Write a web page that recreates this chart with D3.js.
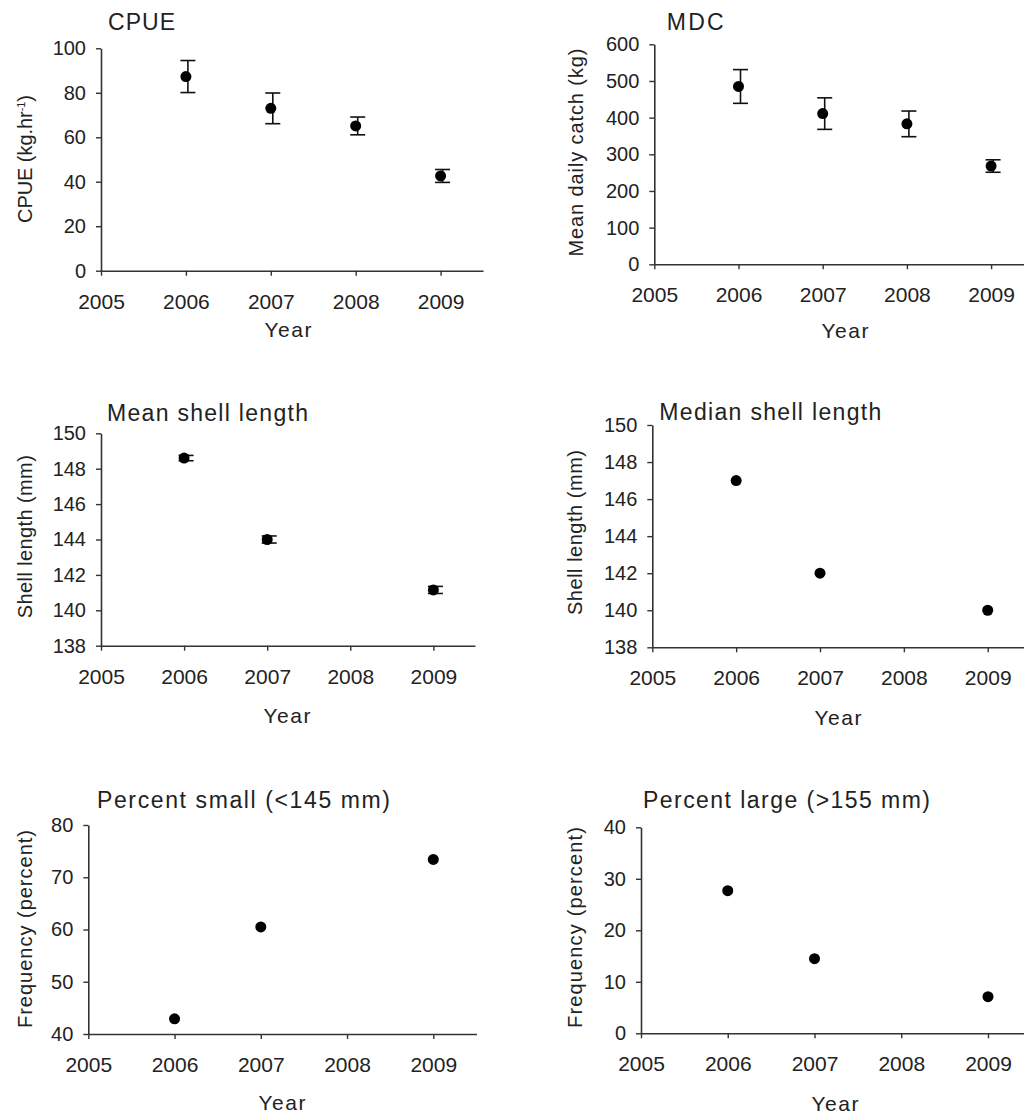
<!DOCTYPE html>
<html><head><meta charset="utf-8">
<script src="https://cdn.jsdelivr.net/npm/d3@7"></script>
<style>
body{margin:0;background:#fff}
text{font-family:"Liberation Sans",Arial,sans-serif;fill:#222}
</style>
</head><body>
<svg id="chart" width="1024" height="1117"></svg>
<script>
// ---------- data ----------
const xTickYears = [2005, 2006, 2007, 2008, 2009];
const years4 = [2006, 2007, 2008, 2009];
const years3 = [2006, 2007, 2009];

const cpue = [87.3, 73.0, 65.1, 42.6];
const cpueErr = [7.2, 6.9, 4.0, 2.9];
const mdc = [485, 411, 383, 268];
const mdcErr = [46, 43, 35, 17];
const meanLength = [148.6, 144.0, 141.15];
const meanLengthErr = [0.15, 0.2, 0.2];
const medianLength = [147, 142, 140];
const pctSmall = [42.9, 60.5, 73.4];
const pctLarge = [27.7, 14.5, 7.1];

const cpueTicks = [0, 20, 40, 60, 80, 100];
const mdcTicks = [0, 100, 200, 300, 400, 500, 600];
const lengthTicks = [138, 140, 142, 144, 146, 148, 150];
const smallTicks = [40, 50, 60, 70, 80];
const largeTicks = [0, 10, 20, 30, 40];

const titles = ["CPUE", "MDC", "Mean shell length", "Median shell length",
                "Percent small (<145 mm)", "Percent large (>155 mm)"];
const yLabels = ["CPUE (kg.hr", "Mean daily catch (kg)", "Shell length (mm)",
                 "Shell length (mm)", "Frequency (percent)", "Frequency (percent)"];
const xLabel = "Year";

// ---------- layout (positions only) ----------
const panels = [
  {years: years4, vals: cpue, err: cpueErr, ticks: cpueTicks, dom: [0, 100],
   left: 101, top: 48.3, bottom: 270.7, perYear: 84.9,
   tx: 108, ty: 30, tLen: 67, lx: 31.5, ly: 159, lLen: 128, yx: 288, yy: 337, sup: true},
  {years: years4, vals: mdc, err: mdcErr, ticks: mdcTicks, dom: [0, 600],
   left: 654.3, top: 44.3, bottom: 264.3, perYear: 84.2,
   tx: 666.7, ty: 30, tLen: 57, lx: 583, ly: 152.5, lLen: 208, yx: 845, yy: 338},
  {years: years3, vals: meanLength, err: meanLengthErr, ticks: lengthTicks, dom: [138, 150],
   left: 101, top: 433.3, bottom: 645.7, perYear: 83.1,
   tx: 107, ty: 421, tLen: 201, lx: 31.5, ly: 536.7, lLen: 163, yx: 287, yy: 723},
  {years: years3, vals: medianLength, err: null, ticks: lengthTicks, dom: [138, 150],
   left: 652.3, top: 425, bottom: 647.3, perYear: 83.85,
   tx: 659.3, ty: 420, tLen: 222, lx: 582, ly: 532.5, lLen: 165, yx: 838, yy: 725},
  {years: years3, vals: pctSmall, err: null, ticks: smallTicks, dom: [40, 80],
   left: 88.3, top: 825, bottom: 1034, perYear: 86.25,
   tx: 97, ty: 808, tLen: 293, lx: 31.5, ly: 929, lLen: 198, yx: 282, yy: 1110},
  {years: years3, vals: pctLarge, err: null, ticks: largeTicks, dom: [0, 40],
   left: 641, top: 827.3, bottom: 1033.3, perYear: 86.75,
   tx: 643, ty: 808, tLen: 287, lx: 582, ly: 927.5, lLen: 201, yx: 835, yy: 1111}
];

const svg = d3.select("#chart");
const ink = "#222";

panels.forEach((p, i) => {
  const x = d3.scaleLinear().domain([2005, 2009.5]).range([p.left, p.left + 4.5 * p.perYear]);
  const y = d3.scaleLinear().domain(p.dom).range([p.bottom, p.top]);
  const g = svg.append("g");

  // y axis
  const ya = g.append("g").attr("transform", `translate(${p.left},0)`)
    .call(d3.axisLeft(y).tickValues(p.ticks).tickSize(5).tickPadding(10).tickSizeOuter(0).tickFormat(d3.format("d")));
  // x axis
  const xa = g.append("g").attr("transform", `translate(0,${p.bottom})`)
    .call(d3.axisBottom(x).tickValues(xTickYears).tickSize(5).tickPadding(8).tickSizeOuter(0).tickFormat(d3.format("d")));
  [ya, xa].forEach(a => {
    a.select(".domain").attr("stroke", "#333").attr("stroke-width", 1.6);
    a.selectAll(".tick line").attr("stroke", "#333").attr("stroke-width", 1.4);
    a.selectAll(".tick text").attr("fill", ink).style("font-size", "20px")
      .style("font-family", '"Liberation Sans", Arial, sans-serif');
  });
  xa.selectAll(".tick text").attr("dy", null).attr("y", 38).style("font-size", "21px");

  // title
  g.append("text").attr("x", p.tx).attr("y", p.ty).style("font-size", "23px")
    .attr("textLength", p.tLen).attr("lengthAdjust", "spacing").text(titles[i]);

  // y label
  const yl = g.append("text").attr("transform", `translate(${p.lx},${p.ly}) rotate(-90)`)
    .attr("text-anchor", "middle").style("font-size", "20px")
    .attr("textLength", p.lLen).attr("lengthAdjust", "spacing");
  if (p.sup) {
    yl.append("tspan").text(yLabels[i]);
    yl.append("tspan").attr("dy", -7).style("font-size", "11px").text("-1");
    yl.append("tspan").attr("dy", 7).text(")");
  } else {
    yl.text(yLabels[i]);
  }

  // x label
  g.append("text").attr("x", p.yx).attr("y", p.yy).attr("text-anchor", "middle")
    .style("font-size", "21px").attr("textLength", 47).attr("lengthAdjust", "spacing").text(xLabel);

  // error bars
  if (p.err) {
    const eb = g.append("g").attr("stroke", "#111").attr("stroke-width", 1.6).attr("fill", "none");
    p.years.forEach((yr, j) => {
      const cx = x(yr) + 2, hi = y(p.vals[j] + p.err[j]), lo = y(p.vals[j] - p.err[j]);
      eb.append("line").attr("x1", cx).attr("x2", cx).attr("y1", hi).attr("y2", lo);
      eb.append("line").attr("x1", cx - 7.5).attr("x2", cx + 7.5).attr("y1", hi).attr("y2", hi);
      eb.append("line").attr("x1", cx - 7.5).attr("x2", cx + 7.5).attr("y1", lo).attr("y2", lo);
    });
  }

  // points
  g.append("g").selectAll("circle").data(p.years).join("circle")
    .attr("cx", d => x(d)).attr("cy", (d, j) => y(p.vals[j]))
    .attr("r", 5.5).attr("fill", "#000");
});
</script>
</body></html>
